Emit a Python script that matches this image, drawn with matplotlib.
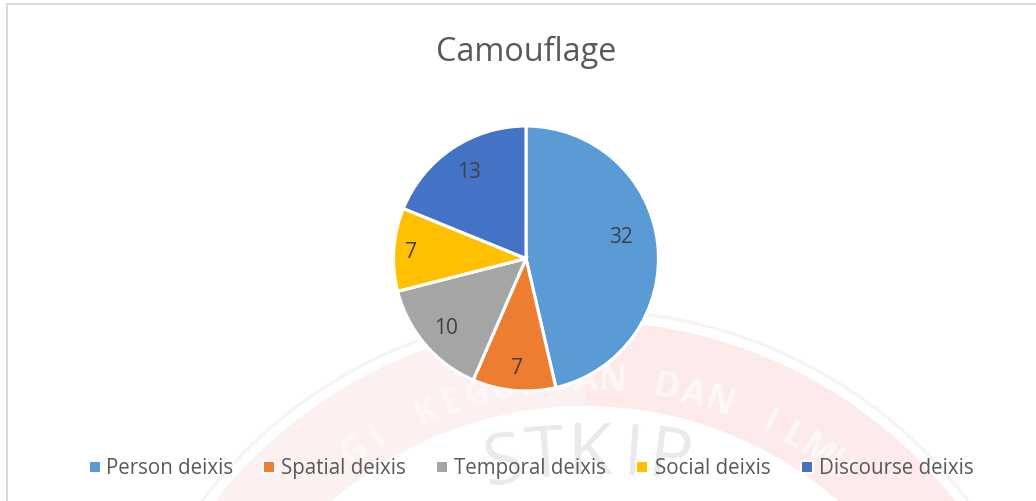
import math
import matplotlib
matplotlib.use('Agg')
import matplotlib.pyplot as plt
from matplotlib.patches import Rectangle, Wedge
from matplotlib.lines import Line2D

plt.rcParams['font.family'] = ['Open Sans', 'DejaVu Sans']

title = 'Camouflage'
categories = ['Person deixis', 'Spatial deixis', 'Temporal deixis', 'Social deixis', 'Discourse deixis']
values = [32, 7, 10, 7, 13]
colors = ['#5B9BD5', '#ED7D31', '#A5A5A5', '#FFC000', '#4472C4']
text_color = '#595959'
label_color = '#404040'

W, H = 1036, 501
fig = plt.figure(figsize=(W/100, H/100), dpi=100, facecolor='white')

# faint background watermark, in pixel coordinates
bg = fig.add_axes([0, 0, 1, 1], zorder=0)
bg.set_xlim(0, W)
bg.set_ylim(H, 0)
bg.axis('off')
cx, cy = 585, 791
bg.add_patch(Wedge((cx, cy), 470, 180, 270, width=85, facecolor='#FDF0F0', edgecolor='none'))
bg.add_patch(Wedge((cx, cy), 470, 270, 360, width=85, facecolor='#FDEAEB', edgecolor='none'))
bg.add_patch(Wedge((cx, cy), 482, 180, 360, width=3, facecolor='#F6F3F3', edgecolor='none'))
band_text = 'GI KEGURUAN DAN ILMU'
for i, ch in enumerate(band_text):
    ang = -34.1 + i * 3.8
    r = 410
    x = cx + r * math.sin(math.radians(ang))
    y = cy - r * math.cos(math.radians(ang))
    bg.text(x, y, ch, ha='center', va='center', rotation=-ang, fontsize=25,
            fontweight='bold', color='#FFF8F8')
for ch, x, y, rot in zip('STKIP', [503, 545, 590, 633, 670], [465, 458, 455, 457, 460], [8, 4, 0, -4, -8]):
    bg.text(x, y, ch, ha='center', va='center', rotation=rot, fontsize=52, color='#EBE9E9')

ax = fig.add_axes([(526-135)/W, 1-(258.5+135)/H, 270/W, 270/H], zorder=1)
ax.patch.set_alpha(0)
wedges, _ = ax.pie(values, colors=colors, startangle=90, counterclock=False, radius=1.0,
                   wedgeprops=dict(edgecolor='white', linewidth=2.25))
ax.set_xlim(-135/132.5, 135/132.5)
ax.set_ylim(-135/132.5, 135/132.5)
ax.set_aspect('equal')

label_pos = [(621, 237), (517, 369), (446, 329), (411, 253), (469, 173)]
for v, (px, py) in zip(values, label_pos):
    fig.text(px/W, 1-py/H, str(v), ha='center', va='center', fontsize=15, color=label_color, zorder=5)

fig.text(526/W, 1-52/H, title, ha='center', va='center', fontsize=23.3, color=text_color, zorder=5)

leg_sq = [90, 264, 437, 637, 802]
leg_tx = [106, 281, 454, 655, 819]
for c, name, sx, tx in zip(colors, categories, leg_sq, leg_tx):
    fig.add_artist(Rectangle(((sx-2)/W, 1-474/H), 14/W, 14/H, transform=fig.transFigure, color='white', lw=0, zorder=4))
    fig.add_artist(Rectangle((sx/W, 1-472/H), 10/W, 10/H, transform=fig.transFigure, color=c, lw=0, zorder=5))
    fig.text(tx/W, 1-468.5/H, name, ha='left', va='center', fontsize=14.8, color=text_color, zorder=5)

# chart frame: top and left edges only are in view
fig.add_artist(Line2D([7/W, 7/W], [0, 1-4/H], transform=fig.transFigure, color='#D9D9D9', lw=1.44, zorder=5))
fig.add_artist(Line2D([7/W, 1], [1-4/H, 1-4/H], transform=fig.transFigure, color='#D9D9D9', lw=1.44, zorder=5))
fig.savefig('out.png', dpi=100)
